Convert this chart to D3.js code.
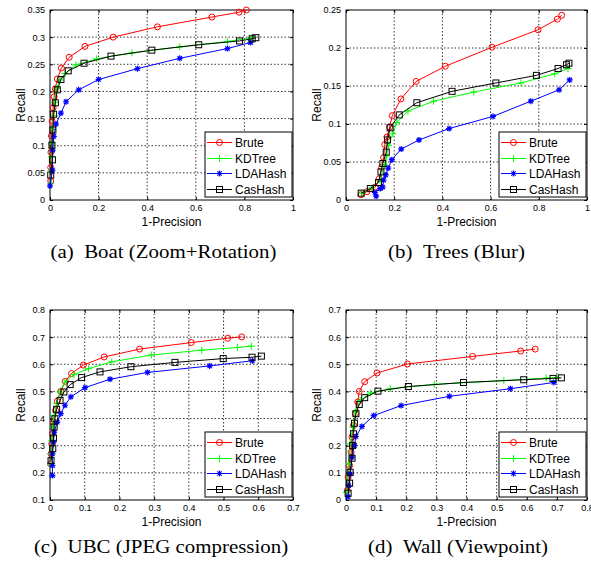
<!DOCTYPE html>
<html><head><meta charset="utf-8">
<script src="https://cdn.jsdelivr.net/npm/d3@7"></script>
<style>
body{margin:0;background:#fff;}
svg{display:block;}
</style></head>
<body>
<svg id="c" width="591" height="565"></svg>
<script>
// ---------- data ----------
const seriesNames = ["Brute","KDTree","LDAHash","CasHash"];
const seriesColors = ["#ff0000","#00ff00","#0000ff","#000000"];

const boatBrute = [[0.003,0.035],[0.003,0.06],[0.004,0.088],[0.006,0.118],[0.009,0.145],[0.013,0.17],[0.017,0.19],[0.022,0.205],[0.03,0.223],[0.047,0.243],[0.079,0.263],[0.144,0.283],[0.26,0.300],[0.442,0.319],[0.666,0.337],[0.778,0.346],[0.808,0.350]];
const boatKD = [[0.004,0.03],[0.006,0.055],[0.007,0.08],[0.008,0.105],[0.011,0.13],[0.015,0.155],[0.02,0.18],[0.027,0.206],[0.041,0.221],[0.062,0.233],[0.107,0.249],[0.192,0.260],[0.337,0.271],[0.534,0.282],[0.73,0.292],[0.83,0.299]];
const boatLDA = [[0.0,0.026],[0.01,0.055],[0.011,0.092],[0.016,0.117],[0.025,0.140],[0.045,0.160],[0.066,0.181],[0.118,0.203],[0.20,0.222],[0.360,0.242],[0.534,0.261],[0.73,0.279],[0.825,0.290]];
const boatCas = [[0.003,0.046],[0.01,0.074],[0.008,0.101],[0.012,0.129],[0.015,0.158],[0.022,0.179],[0.030,0.203],[0.045,0.222],[0.075,0.238],[0.14,0.252],[0.251,0.265],[0.419,0.276],[0.612,0.286],[0.78,0.293],[0.832,0.297],[0.847,0.299]];

const treesBrute = [[0.062,0.007],[0.087,0.011],[0.121,0.017],[0.138,0.028],[0.148,0.043],[0.156,0.056],[0.161,0.073],[0.170,0.083],[0.181,0.096],[0.192,0.111],[0.228,0.133],[0.291,0.156],[0.412,0.176],[0.606,0.201],[0.797,0.224],[0.877,0.238],[0.895,0.243]];
const treesKD = [[0.066,0.009],[0.108,0.016],[0.142,0.026],[0.159,0.046],[0.168,0.058],[0.177,0.072],[0.194,0.087],[0.211,0.102],[0.257,0.117],[0.363,0.130],[0.53,0.142],[0.726,0.154],[0.866,0.166],[0.921,0.173]];
const treesLDA = [[0.125,0.005],[0.12,0.01],[0.142,0.015],[0.152,0.017],[0.156,0.026],[0.165,0.033],[0.175,0.042],[0.19,0.053],[0.229,0.067],[0.303,0.079],[0.428,0.094],[0.610,0.110],[0.767,0.130],[0.884,0.145],[0.928,0.158]];
const treesCas = [[0.063,0.009],[0.101,0.015],[0.135,0.023],[0.145,0.037],[0.153,0.048],[0.167,0.063],[0.172,0.079],[0.183,0.095],[0.221,0.112],[0.294,0.128],[0.44,0.143],[0.622,0.154],[0.790,0.164],[0.880,0.173],[0.915,0.178],[0.925,0.180]];

const ubcBrute = [[0.002,0.233],[0.003,0.270],[0.005,0.307],[0.007,0.344],[0.010,0.387],[0.016,0.430],[0.021,0.464],[0.031,0.500],[0.044,0.537],[0.062,0.566],[0.096,0.597],[0.156,0.627],[0.258,0.656],[0.407,0.680],[0.512,0.696],[0.552,0.701]];
const ubcKD = [[0.002,0.227],[0.003,0.270],[0.005,0.319],[0.008,0.369],[0.012,0.412],[0.019,0.455],[0.029,0.498],[0.043,0.535],[0.069,0.562],[0.111,0.584],[0.178,0.609],[0.292,0.634],[0.437,0.652],[0.54,0.662],[0.58,0.667]];
const ubcLDA = [[0.007,0.190],[0.007,0.227],[0.007,0.270],[0.010,0.313],[0.012,0.350],[0.021,0.387],[0.031,0.418],[0.043,0.449],[0.06,0.48],[0.101,0.514],[0.173,0.545],[0.281,0.570],[0.46,0.594],[0.583,0.613]];
const ubcCas = [[0.003,0.245],[0.008,0.289],[0.010,0.328],[0.012,0.369],[0.014,0.399],[0.019,0.434],[0.029,0.467],[0.040,0.498],[0.058,0.525],[0.091,0.551],[0.144,0.572],[0.233,0.591],[0.36,0.607],[0.499,0.621],[0.582,0.626],[0.609,0.630]];

const wallBrute = [[0.004,0.035],[0.007,0.084],[0.012,0.127],[0.017,0.176],[0.020,0.232],[0.025,0.275],[0.031,0.318],[0.039,0.361],[0.044,0.400],[0.062,0.436],[0.103,0.468],[0.204,0.501],[0.420,0.529],[0.580,0.549],[0.628,0.556]];
const wallKD = [[0.001,0.028],[0.009,0.133],[0.014,0.207],[0.023,0.269],[0.031,0.324],[0.047,0.367],[0.081,0.394],[0.147,0.410],[0.293,0.426],[0.524,0.440],[0.665,0.449],[0.70,0.451]];
const wallLDA = [[0.007,0.012],[0.009,0.053],[0.014,0.096],[0.020,0.158],[0.028,0.201],[0.033,0.234],[0.053,0.271],[0.092,0.311],[0.183,0.348],[0.343,0.382],[0.546,0.410],[0.69,0.433]];
const wallCas = [[0.007,0.025],[0.012,0.062],[0.014,0.102],[0.020,0.154],[0.022,0.201],[0.025,0.244],[0.028,0.283],[0.033,0.318],[0.044,0.352],[0.062,0.377],[0.106,0.401],[0.207,0.418],[0.39,0.433],[0.590,0.443],[0.687,0.448],[0.715,0.450]];

const xTicksA = [0,0.2,0.4,0.6,0.8,1];
const yTicksA = [0,0.05,0.1,0.15,0.2,0.25,0.3,0.35];
const xTicksB = [0,0.2,0.4,0.6,0.8,1];
const yTicksB = [0,0.05,0.1,0.15,0.2,0.25];
const xTicksC = [0,0.1,0.2,0.3,0.4,0.5,0.6,0.7];
const yTicksC = [0.1,0.2,0.3,0.4,0.5,0.6,0.7,0.8];
const xTicksD = [0,0.1,0.2,0.3,0.4,0.5,0.6,0.7,0.8];
const yTicksD = [0,0.1,0.2,0.3,0.4,0.5,0.6,0.7];

const captions = ["(a)\u2002Boat (Zoom+Rotation)","(b)\u2002Trees (Blur)","(c)\u2002UBC (JPEG compression)","(d)\u2002Wall (Viewpoint)"];

// ---------- drawing ----------
const svg = d3.select("#c");
const panels = [
  {left:50, top:10, w:243, h:190, xd:[0,1], yd:[0,0.35], xt:xTicksA, yt:yTicksA, data:[boatBrute,boatKD,boatLDA,boatCas], cap:captions[0], capX:163.5, capY:258},
  {left:346, top:10, w:241, h:190, xd:[0,1], yd:[0,0.25], xt:xTicksB, yt:yTicksB, data:[treesBrute,treesKD,treesLDA,treesCas], cap:captions[1], capX:456.5, capY:258},
  {left:50, top:310, w:243, h:190, xd:[0,0.7], yd:[0.1,0.8], xt:xTicksC, yt:yTicksC, data:[ubcBrute,ubcKD,ubcLDA,ubcCas], cap:captions[2], capX:161, capY:553},
  {left:346, top:310, w:241, h:190, xd:[0,0.8], yd:[0,0.7], xt:xTicksD, yt:yTicksD, data:[wallBrute,wallKD,wallLDA,wallCas], cap:captions[3], capX:458, capY:553}
];

function fmt(v){ return String(+v.toFixed(2)); }

function marker(g, type, x, y, color){
  if(type===0){
    g.append("circle").attr("cx",x).attr("cy",y).attr("r",3).attr("fill","none").attr("stroke",color).attr("stroke-width",1);
  } else if(type===1){
    g.append("path").attr("d",`M${x-3.5},${y}H${x+3.5}M${x},${y-3.5}V${y+3.5}`).attr("stroke",color).attr("stroke-width",1);
  } else if(type===2){
    const s=3, d=2.2;
    g.append("path").attr("d",`M${x-s},${y}H${x+s}M${x},${y-s}V${y+s}M${x-d},${y-d}L${x+d},${y+d}M${x-d},${y+d}L${x+d},${y-d}`).attr("stroke",color).attr("stroke-width",1.2);
  } else {
    g.append("rect").attr("x",x-3).attr("y",y-3).attr("width",6).attr("height",6).attr("fill","none").attr("stroke",color).attr("stroke-width",1);
  }
}

panels.forEach(p=>{
  const g = svg.append("g").attr("transform",`translate(${p.left},${p.top})`);
  const x = d3.scaleLinear().domain(p.xd).range([0,p.w]);
  const y = d3.scaleLinear().domain(p.yd).range([p.h,0]);
  // grid
  const grid = g.append("g");
  p.xt.forEach(t=>{ if(t>p.xd[0] && t<p.xd[1]) grid.append("line").attr("x1",x(t)).attr("x2",x(t)).attr("y1",0).attr("y2",p.h).attr("stroke","#000").attr("stroke-width",0.8).attr("stroke-dasharray","1.5,2"); });
  p.yt.forEach(t=>{ if(t>p.yd[0] && t<p.yd[1]) grid.append("line").attr("y1",y(t)).attr("y2",y(t)).attr("x1",0).attr("x2",p.w).attr("stroke","#000").attr("stroke-width",0.8).attr("stroke-dasharray","1.5,2"); });
  // axes with inward ticks
  const ax = d3.axisBottom(x).tickValues(p.xt).tickSize(-3).tickPadding(5).tickFormat(fmt);
  const ay = d3.axisLeft(y).tickValues(p.yt).tickSize(-3).tickPadding(5).tickFormat(fmt);
  const gx = g.append("g").attr("transform",`translate(0,${p.h})`).call(ax);
  const gy = g.append("g").call(ay);
  g.append("g").call(d3.axisTop(x).tickValues(p.xt).tickSize(-3).tickFormat(""));
  g.append("g").attr("transform",`translate(${p.w},0)`).call(d3.axisRight(y).tickValues(p.yt).tickSize(-3).tickFormat(""));
  g.selectAll(".domain").remove();
  g.selectAll(".tick line").attr("stroke","#000");
  [gx,gy].forEach(a=>a.selectAll("text").attr("font-family","Liberation Sans, Arial, sans-serif").attr("font-size",9).attr("fill","#000"));
  g.append("rect").attr("width",p.w).attr("height",p.h).attr("fill","none").attr("stroke","#000").attr("stroke-width",1);
  // series
  const line = d3.line().x(d=>x(d[0])).y(d=>y(d[1]));
  p.data.forEach((s,i)=>{
    g.append("path").datum(s).attr("d",line).attr("fill","none").attr("stroke",seriesColors[i]).attr("stroke-width",1);
    const mg = g.append("g");
    s.forEach(d=>marker(mg,i,x(d[0]),y(d[1]),seriesColors[i]));
  });
  // labels
  g.append("text").attr("x",p.w/2).attr("y",p.h+26).attr("text-anchor","middle").attr("font-family","Liberation Sans, Arial, sans-serif").attr("font-size",12).text("1-Precision");
  g.append("text").attr("transform",`translate(${-25},${p.h/2}) rotate(-90)`).attr("text-anchor","middle").attr("font-family","Liberation Sans, Arial, sans-serif").attr("font-size",12).text("Recall");
  // legend
  const lw=87, lh=65;
  const lg = g.append("g").attr("transform",`translate(${p.w-lw-1},${p.h-lh-3})`);
  lg.append("rect").attr("width",lw).attr("height",lh).attr("fill","#fff").attr("stroke","#000").attr("stroke-width",1);
  seriesNames.forEach((n,i)=>{
    const yy = Math.round(10 + i*15.5)+0.5;
    lg.append("line").attr("x1",2).attr("x2",27).attr("y1",yy).attr("y2",yy).attr("stroke",seriesColors[i]).attr("stroke-width",1);
    marker(lg,i,14.5,yy,seriesColors[i]);
    lg.append("text").attr("x",30).attr("y",yy+4.3).attr("font-family","Liberation Sans, Arial, sans-serif").attr("font-size",12).text(n);
  });
  // caption (slightly widened Times-like text)
  svg.append("text").attr("transform",`translate(${p.capX},${p.capY}) scale(1.1,1)`).attr("text-anchor","middle").attr("font-family","Liberation Serif, Times New Roman, serif").attr("font-size",19).text(p.cap);
});
</script>
</body></html>
